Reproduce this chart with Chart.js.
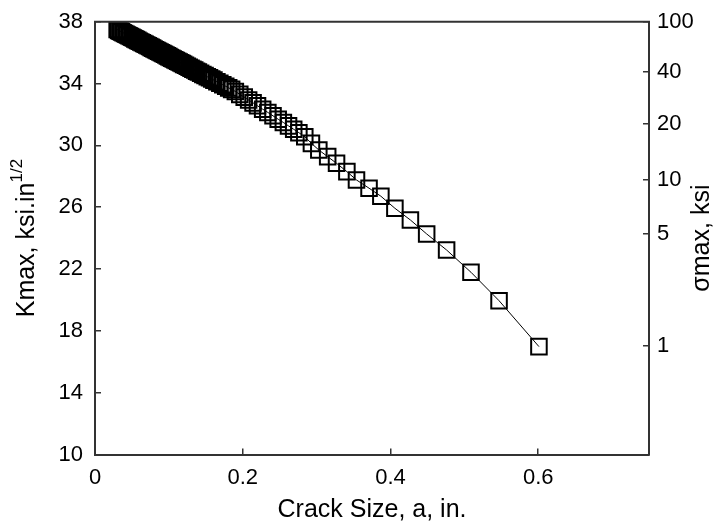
<!DOCTYPE html>
<html><head><meta charset="utf-8">
<script src="https://cdn.jsdelivr.net/npm/chart.js@4/dist/chart.umd.min.js"></script>
<style>html,body{margin:0;padding:0;background:#fff;}#wrap{width:716px;height:525px;}</style>
</head><body><div id="wrap"><canvas id="c" width="716" height="525"></canvas></div>
<script>
const crackSize = [0.030,0.032,0.034,0.036,0.038,0.040,0.042,0.044,0.046,0.048,0.050,0.052,0.054,0.056,0.058,0.060,0.062,0.064,0.066,0.068,
  0.070,0.072,0.074,0.076,0.078,0.080,0.082,0.084,0.086,0.088,0.090,0.092,0.094,0.096,0.098,0.100,0.102,0.104,0.106,0.108,
  0.110,0.112,0.114,0.116,0.118,0.120,0.1225,0.125,0.1275,0.130,0.1325,0.135,0.1375,0.140,0.143,0.146,0.149,0.152,0.155,0.158,
  0.161,0.165,0.169,0.173,0.177,0.181,0.185,0.190,
  0.196,0.202,0.208,0.214,0.220,0.227,0.234,0.241,0.248,0.255,0.262,0.269,0.276,0.284,0.293,0.303,0.315,0.327,0.341,0.354,0.371,0.387,0.406,0.427,0.449,0.476,0.509,0.547,0.601];
const kMax = [37.50,37.44,37.39,37.34,37.29,37.24,37.19,37.14,37.09,37.04,36.99,36.94,36.89,36.84,36.79,36.74,36.69,36.64,36.59,36.54,
  36.49,36.44,36.39,36.34,36.29,36.24,36.19,36.14,36.09,36.04,35.99,35.94,35.89,35.84,35.79,35.74,35.69,35.64,35.59,35.54,
  35.49,35.44,35.39,35.34,35.29,35.24,35.18,35.12,35.05,34.99,34.93,34.87,34.80,34.74,34.67,34.59,34.52,34.44,34.37,34.29,
  34.22,34.12,34.02,33.92,33.82,33.72,33.62,33.49,
  33.30,33.12,32.93,32.75,32.56,32.34,32.13,31.91,31.69,31.48,31.26,31.04,30.82,30.56,30.13,29.70,29.27,28.84,28.30,27.76,27.23,26.71,25.93,25.17,24.27,23.23,21.79,19.95,16.98];
const xTicks = [0,0.2,0.4,0.6];
const xTickLabels = ['0','0.2','0.4','0.6'];
const kTicks = [10,14,18,22,26,30,34,38];
const sigmaTickLabels = ['100','40','20','10','5','1'];
const sigmaTickAtK = [38,34.77,31.38,27.76,24.25,17.02];

const FONT_FAMILY = '"Liberation Sans", Arial, sans-serif';
const TICK_FONT = {family: FONT_FAMILY, size: 22};
const TITLE_SIZE = 25;
const TEXT = '#000';
const AXIS = '#333';

const frame = {
  id: 'frame',
  afterDraw(chart) {
    const {ctx, chartArea: a} = chart;
    ctx.save();
    ctx.strokeStyle = AXIS; ctx.lineWidth = 2;
    ctx.beginPath(); ctx.moveTo(a.left - 1, a.top); ctx.lineTo(a.right + 1, a.top); ctx.stroke();
    const cy = (a.top + a.bottom) / 2;
    ctx.fillStyle = TEXT;
    ctx.textAlign = 'left'; ctx.textBaseline = 'alphabetic';
    const F = TITLE_SIZE + 'px ' + FONT_FAMILY, S = '17px ' + FONT_FAMILY;
    ctx.save();
    ctx.translate(34, cy); ctx.rotate(-Math.PI / 2);
    ctx.font = F; const main = 'Kmax, ksi.in'; const w1 = ctx.measureText(main).width;
    ctx.font = S; const sup = '1/2'; const w2 = ctx.measureText(sup).width;
    const s0 = -(w1 + w2) / 2;
    ctx.font = F; ctx.fillText(main, s0, 0);
    ctx.font = S; ctx.fillText(sup, s0 + w1, -12);
    ctx.restore();
    ctx.save();
    ctx.translate(709, cy); ctx.rotate(-Math.PI / 2);
    ctx.font = F; const t = 'σmax, ksi'; const w = ctx.measureText(t).width;
    ctx.fillText(t, -w / 2, 0);
    ctx.restore();
    ctx.restore();
  }
};

function noPad(s) { s.paddingTop = 0; s.paddingBottom = 0; s.paddingLeft = 0; s.paddingRight = 0; }

new Chart(document.getElementById('c'), {
  type: 'scatter',
  data: {
    datasets: [{
      data: crackSize.map((a, i) => ({x: a, y: kMax[i]})),
      showLine: true,
      borderColor: '#000',
      borderWidth: 1,
      pointStyle: 'rect',
      pointRadius: 11,
      pointBorderWidth: 2,
      pointBorderColor: '#000',
      pointBackgroundColor: 'rgba(0,0,0,0)',
      clip: 0,
      yAxisID: 'y'
    }]
  },
  options: {
    responsive: false, animation: false, devicePixelRatio: 1,
    layout: {padding: {top: 21.7, left: 0, right: 0, bottom: 0}},
    plugins: {legend: {display: false}, tooltip: {enabled: false}},
    scales: {
      x: {
        type: 'linear', position: 'bottom', min: 0, max: 0.75,
        afterBuildTicks: s => { s.ticks = xTicks.map(v => ({value: v})); },
        afterFit: s => { s.height = 70.5; noPad(s); },
        ticks: {callback: (v, i) => xTickLabels[i], font: TICK_FONT, color: TEXT, padding: 16, maxRotation: 0, autoSkip: false},
        grid: {drawOnChartArea: false, tickLength: -6, color: AXIS, lineWidth: 1.5},
        border: {color: AXIS, width: 2},
        title: {display: true, text: 'Crack Size, a, in.', font: {family: FONT_FAMILY, size: TITLE_SIZE}, color: TEXT, padding: {top: 0, bottom: 0}}
      },
      y: {
        type: 'linear', position: 'left', min: 10, max: 38,
        afterBuildTicks: s => { s.ticks = kTicks.map(v => ({value: v})); },
        afterFit: s => { s.width = 95; noPad(s); },
        ticks: {callback: v => String(v), font: TICK_FONT, color: TEXT, padding: 18, autoSkip: false},
        grid: {drawOnChartArea: false, tickLength: -6, color: AXIS, lineWidth: 1.5},
        border: {color: AXIS, width: 2}
      },
      y2: {
        type: 'linear', position: 'right', min: 10, max: 38,
        afterBuildTicks: s => { s.ticks = sigmaTickAtK.map(v => ({value: v})); },
        afterFit: s => { s.width = 67; noPad(s); },
        ticks: {callback: (v, i) => sigmaTickLabels[i], font: TICK_FONT, color: TEXT, padding: 14, autoSkip: false},
        grid: {drawOnChartArea: false, tickLength: -6, color: AXIS, lineWidth: 1.5},
        border: {color: AXIS, width: 2}
      }
    }
  },
  plugins: [frame]
});
</script></body></html>
